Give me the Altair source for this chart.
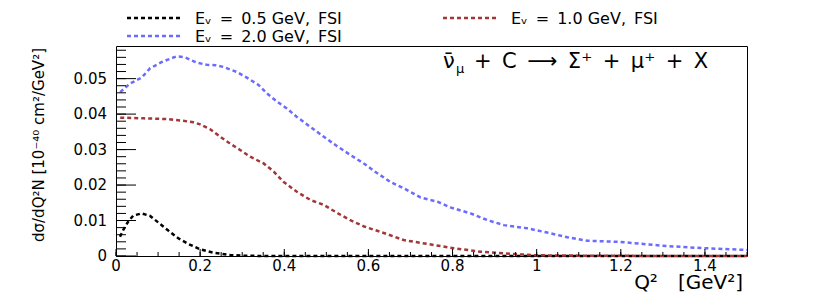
import altair as alt
import pandas as pd

# ---- data ----
q2_05 = [0.0095, 0.017, 0.029, 0.041, 0.061, 0.081, 0.101, 0.125, 0.148, 0.172, 0.200, 0.232, 0.271, 0.300, 0.350, 0.500, 0.800, 1.100, 1.500]
xs_05 = [0.0054, 0.0073, 0.0097, 0.0114, 0.0120, 0.0113, 0.0094, 0.0071, 0.0050, 0.0034, 0.0019, 0.0009, 0.0003, 0.0001, 0.0, 0.0, 0.0, 0.0, 0.0]

q2_10 = [0.010, 0.066, 0.121, 0.160, 0.184, 0.200, 0.224, 0.248, 0.271, 0.295, 0.319, 0.351, 0.375, 0.398, 0.430, 0.462, 0.494, 0.525, 0.557, 0.590, 0.629, 0.684, 0.740, 0.803, 0.867, 0.938, 1.000, 1.100, 1.300, 1.500]
xs_10 = [0.0390, 0.0388, 0.0386, 0.0381, 0.0377, 0.0371, 0.0357, 0.0336, 0.0317, 0.0299, 0.0280, 0.0261, 0.0238, 0.0209, 0.0181, 0.0158, 0.0144, 0.0122, 0.0101, 0.0083, 0.0068, 0.0045, 0.0034, 0.0022, 0.0012, 0.0006, 0.0002, 0.0001, 0.0, 0.0]

q2_20 = [0.010, 0.033, 0.061, 0.081, 0.109, 0.144, 0.164, 0.192, 0.216, 0.236, 0.255, 0.287, 0.311, 0.339, 0.359, 0.383, 0.406, 0.430, 0.462, 0.494, 0.525, 0.557, 0.590, 0.613, 0.652, 0.684, 0.724, 0.764, 0.795, 0.843, 0.883, 0.922, 0.978, 1.025, 1.073, 1.121, 1.196, 1.232, 1.311, 1.398, 1.500]
xs_20 = [0.0462, 0.0486, 0.0503, 0.0529, 0.0547, 0.0563, 0.0560, 0.0545, 0.0539, 0.0538, 0.0533, 0.0519, 0.0503, 0.0482, 0.0458, 0.0435, 0.0416, 0.0392, 0.0364, 0.0336, 0.0310, 0.0285, 0.0260, 0.0240, 0.0209, 0.0191, 0.0165, 0.0153, 0.0137, 0.0120, 0.0101, 0.0087, 0.0078, 0.0066, 0.0053, 0.0043, 0.0040, 0.0036, 0.0028, 0.0022, 0.0017]

SP = "\u2002"
series_names = [f"E\u1d65{SP}={SP}0.5 GeV,{SP}FSI", f"E\u1d65{SP}={SP}1.0 GeV,{SP}FSI", f"E\u1d65{SP}={SP}2.0 GeV,{SP}FSI"]
series_colors = ["#000000", "#a33636", "#6b6bff"]
leg_sym_x = [11, 327, 11]
leg_row_y = [-28, -28, -10]

x_major = [0, 0.2, 0.4, 0.6, 0.8, 1.0, 1.2, 1.4]
x_labels = ["0", "0.2", "0.4", "0.6", "0.8", "1", "1.2", "1.4"]
x_minor = [round(i * 0.05, 3) for i in range(0, 31)]
y_major = [0, 0.01, 0.02, 0.03, 0.04, 0.05]
y_labels = ["0", "0.01", "0.02", "0.03", "0.04", "0.05"]
y_minor = [round(i * 0.002, 4) for i in range(0, 30)]

x_title = f"Q\u00b2{SP}{SP}[GeV\u00b2]"
y_title = "d\u03c3/dQ\u00b2N  [10\u207b\u2074\u2070 cm\u00b2/GeV\u00b2]"

X_DOMAIN = [0, 1.5]
Y_DOMAIN = [0, 0.0592]
W, H = 631, 210
FONT = "DejaVu Sans"

rows = []
for name, qs, vs in zip(series_names, [q2_05, q2_10, q2_20], [xs_05, xs_10, xs_20]):
    for q, v in zip(qs, vs):
        rows.append({"Q2": q, "xs": v, "series": name})
df = pd.DataFrame(rows)

xscale = alt.Scale(domain=X_DOMAIN, nice=False, zero=False)
yscale = alt.Scale(domain=Y_DOMAIN, nice=False, zero=False)
cscale = alt.Scale(domain=series_names, range=series_colors)

lines = alt.Chart(df).mark_line(strokeDash=[4, 3], strokeWidth=2.5).encode(
    x=alt.X("Q2:Q", scale=xscale, axis=None),
    y=alt.Y("xs:Q", scale=yscale, axis=None),
    color=alt.Color("series:N", scale=cscale, legend=None),
    detail="series:N",
    order="Q2:Q",
)

# inward tick marks (ROOT style) drawn through the shared scales
ymaj = alt.Chart(pd.DataFrame({"ty1": y_major})).mark_rule(color="black", strokeWidth=1).encode(
    y=alt.Y("ty1:Q", scale=yscale, axis=None), x=alt.value(0), x2=alt.value(20))
ymin = alt.Chart(pd.DataFrame({"ty2": y_minor})).mark_rule(color="black", strokeWidth=1).encode(
    y=alt.Y("ty2:Q", scale=yscale, axis=None), x=alt.value(0), x2=alt.value(10))
xmaj = alt.Chart(pd.DataFrame({"tx1": x_major})).mark_rule(color="black", strokeWidth=1).encode(
    x=alt.X("tx1:Q", scale=xscale, axis=None), y=alt.value(H), y2=alt.value(H - 7))
xmin = alt.Chart(pd.DataFrame({"tx2": x_minor})).mark_rule(color="black", strokeWidth=1).encode(
    x=alt.X("tx2:Q", scale=xscale, axis=None), y=alt.value(H), y2=alt.value(H - 4))

# tick labels, placed through the same scales
ylab = alt.Chart(pd.DataFrame({"yv": y_major, "label": y_labels})).mark_text(
    font=FONT, fontSize=15, align="right", baseline="middle", color="black").encode(
    y=alt.Y("yv:Q", scale=yscale, axis=None), x=alt.value(-9), text="label:N")
xlab = alt.Chart(pd.DataFrame({"xv": x_major, "label": x_labels})).mark_text(
    font=FONT, fontSize=15, align="center", baseline="top", color="black").encode(
    x=alt.X("xv:Q", scale=xscale, axis=None), y=alt.value(H + 3), text="label:N")

# axis titles
xtit = alt.Chart(pd.DataFrame({"t": [x_title]})).mark_text(
    font=FONT, fontSize=20, align="right", baseline="alphabetic", color="black").encode(
    text="t:N", x=alt.value(W - 4), y=alt.value(H + 33))
ytit = alt.Chart(pd.DataFrame({"t": [y_title]})).mark_text(
    font=FONT, fontSize=15, align="right", baseline="alphabetic", angle=270, color="black").encode(
    text="t:N", x=alt.value(-72), y=alt.value(2))

# manual legend
leg_layers = []
for name, sx, ry, col in zip(series_names, leg_sym_x, leg_row_y, series_colors):
    d = pd.DataFrame({"series": [name]})
    leg_layers.append(alt.Chart(d).mark_rule(strokeDash=[4, 3], strokeWidth=2.5, color=col).encode(
        x=alt.value(sx), x2=alt.value(sx + 55), y=alt.value(ry)))
    leg_layers.append(alt.Chart(d).mark_text(font=FONT, fontSize=16, align="left", baseline="middle",
                                             color="black").encode(
        text="series:N", x=alt.value(sx + 68), y=alt.value(ry + 1)))

ann_x0 = 327
nu = alt.Chart(pd.DataFrame({"t": ["\u03bd\u0304"]})).mark_text(
    font=FONT, fontSize=21, align="left", baseline="alphabetic", color="black").encode(
    text="t:N", x=alt.value(ann_x0), y=alt.value(22))
mu = alt.Chart(pd.DataFrame({"t": ["\u03bc"]})).mark_text(
    font=FONT, fontSize=13, align="left", baseline="alphabetic", color="black").encode(
    text="t:N", x=alt.value(ann_x0 + 13), y=alt.value(27))
rest = alt.Chart(pd.DataFrame({"t": [f"+{SP}C{SP}\u27f6{SP}\u03a3\u207a{SP}+{SP}\u03bc\u207a{SP}+{SP}X"]})).mark_text(
    font=FONT, fontSize=21, align="left", baseline="alphabetic", color="black").encode(
    text="t:N", x=alt.value(ann_x0 + 31), y=alt.value(22))

chart = alt.layer(lines, ylab, xlab, xtit, ytit, *leg_layers, nu, mu, rest,
                  ymaj, ymin, xmaj, xmin).resolve_scale(
    x="shared", y="shared"
).properties(
    width=W, height=H,
    autosize=alt.AutoSizeParams(type="none"),
    padding={"left": 108, "top": 38, "right": 70, "bottom": 38},
).configure_view(stroke="black", strokeWidth=1)

chart.save("out.html", embed_options={"renderer": "svg", "actions": False})
